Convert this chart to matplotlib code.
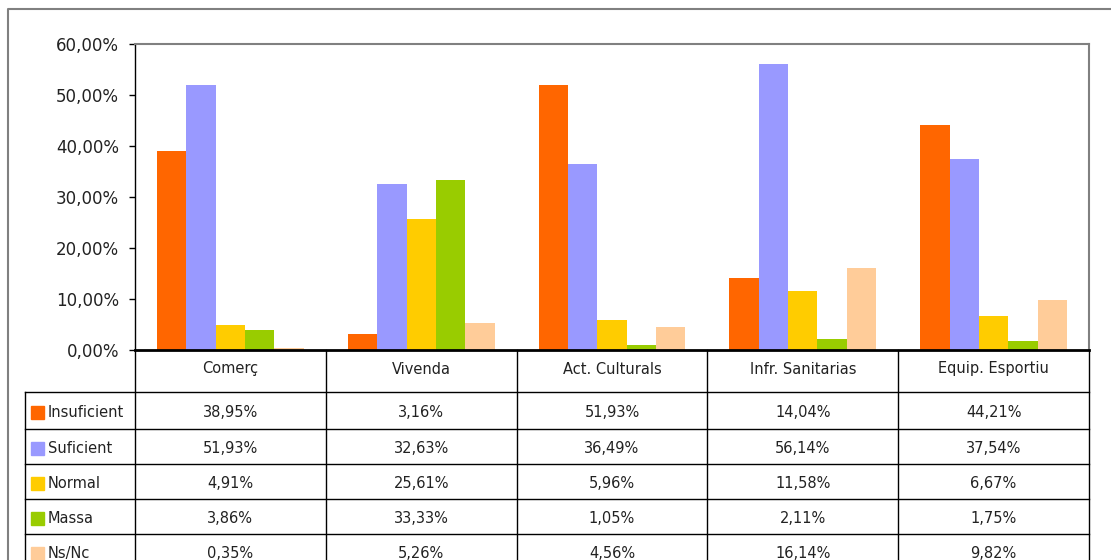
import numpy as np
import matplotlib
matplotlib.use("Agg")
import matplotlib.pyplot as plt
from matplotlib.ticker import FuncFormatter

plt.rcParams['font.family'] = ['DejaVu Sans']

categories = ['Comerç', 'Vivenda', 'Act. Culturals', 'Infr. Sanitarias', 'Equip. Esportiu']
series = ['Insuficient', 'Suficient', 'Normal', 'Massa', 'Ns/Nc']
insuficient = [38.95, 3.16, 51.93, 14.04, 44.21]
suficient = [51.93, 32.63, 36.49, 56.14, 37.54]
normal = [4.91, 25.61, 5.96, 11.58, 6.67]
massa = [3.86, 33.33, 1.05, 2.11, 1.75]
nsnc = [0.35, 5.26, 4.56, 16.14, 9.82]
values = [insuficient, suficient, normal, massa, nsnc]
colors = ['#FF6600', '#9999FF', '#FFCC00', '#99CC00', '#FFCC99']

W, H = 1111, 560
fig = plt.figure(figsize=(W / 100, H / 100), dpi=100)

def frac(x0, y0, x1, y1):
    # pixel box (top-left origin) -> figure fraction rect
    return [x0 / W, 1 - y1 / H, (x1 - x0) / W, (y1 - y0) / H]

# overlay in pixel coords for chart frame and data table
ov = fig.add_axes([0, 0, 1, 1], zorder=0)
ov.set_xlim(0, W)
ov.set_ylim(H, 0)
ov.axis('off')

# outer chart border
ov.plot([8, 8, W], [H, 9, 9], color='#808080', lw=1.5)

# bar plot
px0, py0, px1, py1 = 135, 44, 1089, 350
ax = fig.add_axes(frac(px0, py0, px1, py1), zorder=2)
ax.patch.set_alpha(0)
x = np.arange(len(categories))
bw = 0.154
for i, (s, v, c) in enumerate(zip(series, values, colors)):
    ax.bar(x + (i - 2) * bw, np.array(v) / 100, bw, color=c, label=s, zorder=2)

ax.set_xlim(-0.5, len(categories) - 0.5)
ax.set_ylim(0, 0.6)
ax.set_yticks(np.arange(0, 0.61, 0.1))
ax.yaxis.set_major_formatter(FuncFormatter(lambda v, p: f'{v * 100:.2f}%'.replace('.', ',')))
ax.set_xticks([])
ax.tick_params(axis='y', direction='out', length=4.5, width=1, labelsize=12, pad=7,
               colors='black', labelcolor='#222222')
for side in ['top', 'right']:
    ax.spines[side].set_color('#808080')
    ax.spines[side].set_linewidth(1.5)
ax.spines['left'].set_color('black')
ax.spines['left'].set_linewidth(1)
ax.spines['bottom'].set_color('black')
ax.spines['bottom'].set_linewidth(2)

# data table
col_edges = np.linspace(px0, px1, len(categories) + 1)
row_edges = [392, 429, 464, 499, 534, 569]
leg_x = 25
lc = 'black'
for xe in col_edges:
    ov.plot([xe, xe], [py1, H + 20], color=lc, lw=1, clip_on=False)
ov.plot([leg_x, leg_x], [row_edges[0], H + 20], color=lc, lw=1, clip_on=False)
for ye in row_edges:
    ov.plot([leg_x, px1], [ye, ye], color=lc, lw=1, clip_on=False)

centers = (col_edges[:-1] + col_edges[1:]) / 2
for cx, cat in zip(centers, categories):
    ov.text(cx, (py1 + row_edges[0]) / 2 - 2, cat, ha='center', va='center',
            fontsize=10.5, color='#222222')

for r, (s, v, c) in enumerate(zip(series, values, colors)):
    cy = (row_edges[r] + row_edges[r + 1]) / 2 + 2
    ov.add_patch(plt.Rectangle((31, cy - 6.5), 13, 13, color=c, clip_on=False))
    ov.text(48, cy, s, ha='left', va='center', fontsize=10.5, color='#222222', clip_on=False)
    for cx, val in zip(centers, v):
        ov.text(cx, cy, f'{val:.2f}%'.replace('.', ','), ha='center', va='center',
                fontsize=10.5, color='#222222', clip_on=False)

fig.savefig('out.png', dpi=100)
